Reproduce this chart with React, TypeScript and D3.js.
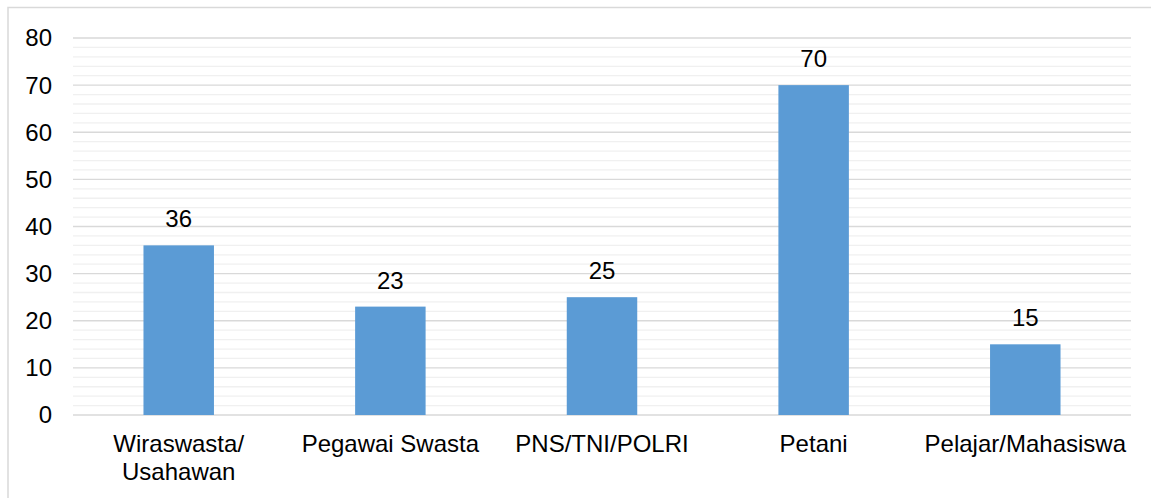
import React from "react";
import * as d3 from "d3";

const categories: string[][] = [
  ["Wiraswasta/", "Usahawan"],
  ["Pegawai Swasta"],
  ["PNS/TNI/POLRI"],
  ["Petani"],
  ["Pelajar/Mahasiswa"],
];
const values: number[] = [36, 23, 25, 70, 15];
const majorTicks: number[] = [0, 10, 20, 30, 40, 50, 60, 70, 80];
const minorTicks: number[] = d3.range(0, 81, 2);

const W = 1151;
const H = 498;
const left = 73;
const right = 1131;
const top = 38;
const bottom = 415;
const font = "'Liberation Sans', Arial, sans-serif";
const fs = 24;

export default function App() {
  const keys = categories.map((c) => c.join(" "));
  const x = d3.scaleBand<string>().domain(keys).range([left, right]).paddingInner(0.667).paddingOuter(0.333);
  const y = d3.scaleLinear().domain([0, 80]).range([bottom, top]);

  return (
    <svg
      width={W}
      height={H}
      style={{ position: "absolute", left: 0, top: 0, display: "block", background: "#fff" }}
    >
      <rect x={8} y={7.5} width={W + 20} height={H + 20} fill="#fff" stroke="#d9d9d9" strokeWidth={1.5} />
      {minorTicks
        .filter((t) => t % 10 !== 0)
        .map((t) => (
          <line key={"m" + t} x1={left} x2={right} y1={y(t)} y2={y(t)} stroke="#f0f0f0" strokeWidth={1.3} />
        ))}
      {majorTicks.map((t) => (
        <line key={"M" + t} x1={left} x2={right} y1={y(t)} y2={y(t)} stroke="#d9d9d9" strokeWidth={1.3} />
      ))}
      {majorTicks.map((t) => (
        <text
          key={"t" + t}
          x={52}
          y={y(t)}
          dy="0.35em"
          textAnchor="end"
          fontFamily={font}
          fontSize={fs}
          fill="#000"
        >
          {t}
        </text>
      ))}
      {values.map((v, i) => {
        const k = keys[i];
        const bx = x(k) as number;
        const bw = x.bandwidth();
        return (
          <g key={k}>
            <rect x={bx} y={y(v)} width={bw} height={y(0) - y(v)} fill="#5b9bd5" />
            <text
              x={bx + bw / 2}
              y={y(v) - 18}
              textAnchor="middle"
              fontFamily={font}
              fontSize={fs}
              fill="#000"
            >
              {v}
            </text>
            {categories[i].map((line, j) => (
              <text
                key={j}
                x={bx + bw / 2}
                y={452 + j * 27.5}
                textAnchor="middle"
                fontFamily={font}
                fontSize={fs}
                fill="#000"
              >
                {line}
              </text>
            ))}
          </g>
        );
      })}
    </svg>
  );
}
